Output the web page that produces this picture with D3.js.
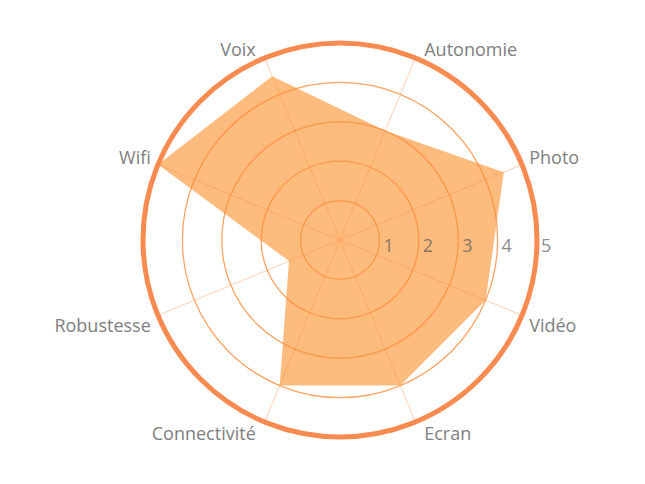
<!DOCTYPE html>
<html>
<head>
<meta charset="utf-8">
<script src="https://cdn.jsdelivr.net/npm/d3@7"></script>
<style>
    body { margin: 0; background: #fff; }
    svg { display: block; }
</style>
</head>
<body>
<div id="chart"></div>
<script>
// axes clockwise, first one sits 22.5° right of 12 o'clock
const categories = ['Autonomie', 'Photo', 'Vidéo', 'Ecran', 'Connectivité', 'Robustesse', 'Wifi', 'Voix'];
const scores = [3, 4.5, 4, 4, 4, 1.4, 5, 4.5];
const ticks = [1, 2, 3, 4, 5];

const width = 645;
const height = 484;
const cx = 340;
const cy = 240;
const font = '"Open Sans", sans-serif';

const svg = d3.select('#chart').append('svg')
    .attr('width', width)
    .attr('height', height)
    .attr('viewBox', [0, 0, width, height]);

const r = d3.scaleLinear().domain([0, 5]).range([0, 197]);
const angle = d3.scalePoint()
    .domain(categories)
    .range([0, 2 * Math.PI * (categories.length - 1) / categories.length]);
const offset = Math.PI / categories.length;
const a = c => angle(c) + offset;

const g = svg.append('g').attr('transform', `translate(${cx},${cy})`);

// filled area first, grid is drawn over it
const area = d3.lineRadial()
    .angle((d, i) => a(categories[i]))
    .radius(d => r(d))
    .curve(d3.curveLinearClosed);

g.append('path')
    .attr('d', area(scores))
    .attr('fill', '#fdbb7e');

// spokes
g.selectAll('.spoke')
    .data(categories)
    .join('line')
    .attr('class', 'spoke')
    .attr('x1', 0).attr('y1', 0)
    .attr('x2', d => r(5) * Math.sin(a(d)))
    .attr('y2', d => -r(5) * Math.cos(a(d)))
    .attr('stroke', '#fd8d3c')
    .attr('stroke-opacity', 0.4)
    .attr('stroke-width', 1);

// rings, the last one is the heavy border
g.selectAll('.ring')
    .data(ticks)
    .join('circle')
    .attr('class', 'ring')
    .attr('r', d => r(d))
    .attr('fill', 'none')
    .attr('stroke', d => d === 5 ? '#f98b50' : '#fd8d3c')
    .attr('stroke-opacity', d => d === 5 ? 1 : 0.8)
    .attr('stroke-width', d => d === 5 ? 5 : 1.3);

// tick values along the horizontal
g.selectAll('.tick')
    .data(ticks)
    .join('text')
    .attr('class', 'tick')
    .attr('x', d => r(d) + 4)
    .attr('y', 12)
    .attr('font-family', font)
    .attr('font-size', 18)
    .attr('fill', '#555')
    .attr('fill-opacity', 0.7)
    .text(d => d);

// category labels
g.selectAll('.label')
    .data(categories)
    .join('text')
    .attr('class', 'label')
    .attr('x', d => {
        const s = Math.sin(a(d));
        return (r(5) - 3) * s + 10 * Math.sign(s);
    })
    .attr('y', d => {
        const c = Math.cos(a(d));
        return -(r(5) + 2) * c + 8 - 8 * Math.sign(c);
    })
    .attr('text-anchor', d => Math.sin(a(d)) > 0 ? 'start' : 'end')
    .attr('font-family', font)
    .attr('font-size', 18)
    .attr('fill', '#808080')
    .text(d => d);
</script>
</body>
</html>
